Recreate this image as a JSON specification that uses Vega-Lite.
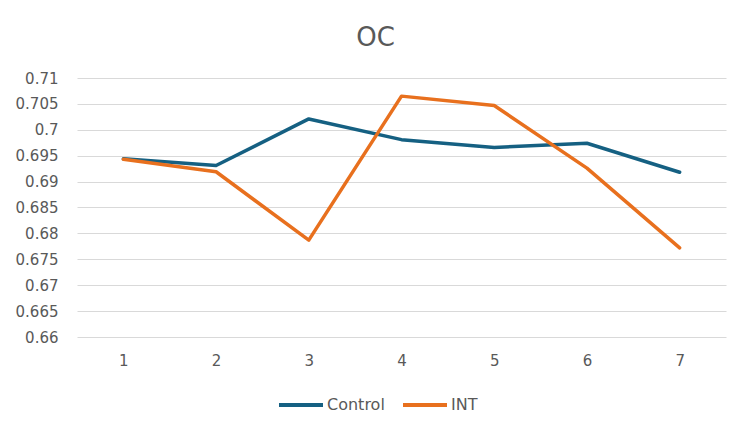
{
  "$schema": "https://vega.github.io/schema/vega-lite/v6.json",
  "width": 649,
  "height": 259,
  "autosize": {"type": "none"},
  "padding": {"left": 77, "top": 78, "right": 24, "bottom": 97},
  "background": "white",
  "title": {
    "text": "OC",
    "fontSize": 26,
    "font": "DejaVu Sans",
    "fontWeight": "normal",
    "color": "#595959",
    "anchor": "middle",
    "dx": -26,
    "offset": 20
  },
  "data": {
    "values": [
      {"period": "1", "group": "Control", "oc": 0.6944},
      {"period": "2", "group": "Control", "oc": 0.6931},
      {"period": "3", "group": "Control", "oc": 0.7021},
      {"period": "4", "group": "Control", "oc": 0.6981},
      {"period": "5", "group": "Control", "oc": 0.6966},
      {"period": "6", "group": "Control", "oc": 0.6974},
      {"period": "7", "group": "Control", "oc": 0.6918},
      {"period": "1", "group": "INT", "oc": 0.6943},
      {"period": "2", "group": "INT", "oc": 0.6919},
      {"period": "3", "group": "INT", "oc": 0.6787},
      {"period": "4", "group": "INT", "oc": 0.7065},
      {"period": "5", "group": "INT", "oc": 0.7047},
      {"period": "6", "group": "INT", "oc": 0.6926},
      {"period": "7", "group": "INT", "oc": 0.6772}
    ]
  },
  "mark": {"type": "line", "strokeWidth": 3.5, "strokeCap": "round", "strokeJoin": "round"},
  "encoding": {
    "x": {
      "field": "period",
      "type": "ordinal",
      "title": null,
      "scale": {"type": "point", "padding": 0.5},
      "axis": {
        "labelAngle": 0,
        "ticks": false,
        "domain": false,
        "labelPadding": 16,
        "labelFontSize": 15,
        "labelFont": "DejaVu Sans",
        "labelColor": "#595959"
      }
    },
    "y": {
      "field": "oc",
      "type": "quantitative",
      "title": null,
      "scale": {"domain": [0.66, 0.71], "zero": false, "nice": false},
      "axis": {
        "values": [0.66, 0.665, 0.67, 0.675, 0.68, 0.685, 0.69, 0.695, 0.7, 0.705, 0.71],
        "format": "~g",
        "ticks": false,
        "domain": false,
        "gridColor": "#d9d9d9",
        "gridWidth": 1,
        "labelPadding": 19,
        "labelFontSize": 15,
        "labelFont": "DejaVu Sans",
        "labelColor": "#595959"
      }
    },
    "color": {
      "field": "group",
      "type": "nominal",
      "title": null,
      "scale": {"domain": ["Control", "INT"], "range": ["#156082", "#e8701e"]},
      "legend": {
        "orient": "none",
        "legendX": 200,
        "legendY": 303,
        "direction": "horizontal",
        "symbolType": "stroke",
        "symbolSize": 1936,
        "symbolStrokeWidth": 4,
        "labelFontSize": 16,
        "labelFont": "DejaVu Sans",
        "labelColor": "#595959",
        "labelOffset": 2,
        "columnPadding": 10
      }
    }
  },
  "config": {"view": {"stroke": null}}
}
